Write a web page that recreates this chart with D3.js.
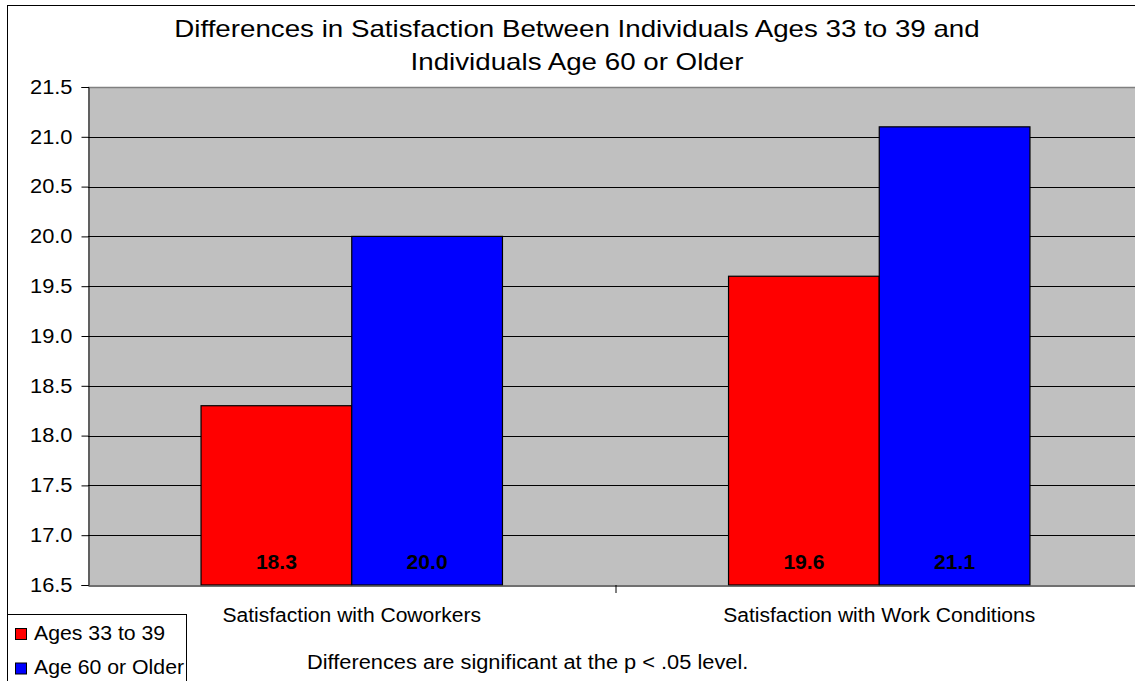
<!DOCTYPE html>
<html>
<head>
<meta charset="utf-8">
<script src="https://cdn.jsdelivr.net/npm/d3@7"></script>
<style>
  html, body { margin: 0; padding: 0; background: #fff; }
  svg { display: block; font-family: "Liberation Sans", Arial, sans-serif; }
</style>
</head>
<body>
<svg id="chart" width="1135" height="681"></svg>
<script>
// Chart data
const categories = ["Satisfaction with Coworkers", "Satisfaction with Work Conditions"];
const seriesNames = ["Ages 33 to 39", "Age 60 or Older"];
const ages33to39 = [18.3, 19.6];
const age60older = [20.0, 21.1];
const seriesColors = ["#ff0000", "#0000ff"];
const yTicks = [16.5, 17.0, 17.5, 18.0, 18.5, 19.0, 19.5, 20.0, 20.5, 21.0, 21.5];
const titleLines = ["Differences in Satisfaction Between Individuals Ages 33 to 39 and",
                    "Individuals Age 60 or Older"];
const footnote = "Differences are significant at the p < .05 level.";

const seriesValues = [ages33to39, age60older];

const svg = d3.select("#chart");

// Widen text horizontally by a factor, keeping its height
function widen(sel, factor) {
  sel.each(function () {
    const w = this.getComputedTextLength();
    d3.select(this).attr("textLength", w * factor).attr("lengthAdjust", "spacingAndGlyphs");
  });
}

// Outer chart frame
svg.append("rect")
  .attr("x", 7.5).attr("y", 5.5).attr("width", 1160).attr("height", 700)
  .attr("fill", "#fff").attr("stroke", "#000").attr("stroke-width", 1);

const plot = { left: 88, top: 87, right: 1143, bottom: 585 };

const y = d3.scaleLinear().domain([16.5, 21.5]).range([plot.bottom, plot.top]);
const x0 = d3.scaleBand().domain(categories).range([plot.left, plot.right]).padding(0);
const x1 = d3.scaleBand().domain(seriesNames).range([0, x0.bandwidth()])
  .paddingInner(0).paddingOuter(0.75);

// Plot background
svg.append("rect")
  .attr("x", plot.left).attr("y", plot.top)
  .attr("width", plot.right - plot.left).attr("height", plot.bottom - plot.top)
  .attr("fill", "#c0c0c0");

// Gridlines
svg.append("g")
  .selectAll("line")
  .data(yTicks.filter(t => t > 16.5 && t < 21.5))
  .join("line")
  .attr("x1", plot.left).attr("x2", plot.right)
  .attr("y1", d => Math.round(y(d)) + 0.5).attr("y2", d => Math.round(y(d)) + 0.5)
  .attr("stroke", "#000").attr("stroke-width", 1);

// Plot top border
svg.append("line")
  .attr("x1", plot.left).attr("x2", plot.right)
  .attr("y1", plot.top + 0.5).attr("y2", plot.top + 0.5)
  .attr("stroke", "#808080").attr("stroke-width", 1.5);

// Bars
const groups = svg.append("g").selectAll("g")
  .data(categories)
  .join("g")
  .attr("transform", d => `translate(${x0(d)},0)`);

groups.selectAll("rect")
  .data((d, i) => seriesNames.map((s, j) => ({ s, j, v: seriesValues[j][i] })))
  .join("rect")
  .attr("x", d => x1(d.s))
  .attr("y", d => y(d.v))
  .attr("width", x1.bandwidth())
  .attr("height", d => y(16.5) - y(d.v))
  .attr("fill", d => seriesColors[d.j])
  .attr("stroke", "#000").attr("stroke-width", 1.2);

// Value labels
groups.selectAll("text")
  .data((d, i) => seriesNames.map((s, j) => ({ s, j, v: seriesValues[j][i] })))
  .join("text")
  .attr("x", d => x1(d.s) + x1.bandwidth() / 2)
  .attr("y", 569)
  .attr("text-anchor", "middle")
  .attr("font-size", 19.5).attr("font-weight", "bold")
  .attr("fill", "#000")
  .text(d => d3.format(".1f")(d.v))
  .call(widen, 1.08);

// Y axis
const yAxis = d3.axisLeft(y).tickValues(yTicks).tickFormat(d3.format(".1f"))
  .tickSize(7).tickPadding(9);
const yg = svg.append("g").attr("transform", `translate(${plot.left + 0.5},0)`).call(yAxis);
yg.select(".domain").attr("stroke", "#000");
yg.selectAll(".tick line").attr("stroke", "#000");
yg.selectAll(".tick text").attr("font-size", 19.5).attr("fill", "#000")
  .attr("font-family", "Liberation Sans, Arial, sans-serif")
  .call(widen, 1.12);

// X axis
const xAxis = d3.axisBottom(x0).tickSize(0).tickPadding(0);
const xg = svg.append("g").attr("transform", `translate(0,${plot.bottom + 0.5})`).call(xAxis);
xg.select(".domain").attr("stroke", "#404040").attr("stroke-width", 1.5);
xg.selectAll(".tick text").attr("font-size", 19.5).attr("fill", "#000")
  .attr("dy", 0).attr("y", 36.5)
  .attr("font-family", "Liberation Sans, Arial, sans-serif")
  .call(widen, 1.08);
// Category separators
svg.append("g").selectAll("line")
  .data(categories.slice(1))
  .join("line")
  .attr("x1", d => x0(d) + 0.5).attr("x2", d => x0(d) + 0.5)
  .attr("y1", plot.bottom).attr("y2", plot.bottom + 8)
  .attr("stroke", "#000");

// Title
svg.append("g").selectAll("text")
  .data(titleLines)
  .join("text")
  .attr("x", 577).attr("y", (d, i) => 37 + i * 33)
  .attr("text-anchor", "middle")
  .attr("font-size", 24).attr("fill", "#000")
  .text(d => d)
  .call(widen, 1.155);

// Footnote
svg.append("text")
  .attr("x", 307).attr("y", 669)
  .attr("font-size", 20).attr("fill", "#000")
  .text(footnote)
  .call(widen, 1.09);

// Legend
const legend = svg.append("g");
legend.append("rect")
  .attr("x", 7.5).attr("y", 614.5).attr("width", 179).attr("height", 80)
  .attr("fill", "#fff").attr("stroke", "#000");
const items = legend.selectAll("g")
  .data(seriesNames)
  .join("g")
  .attr("transform", (d, i) => `translate(0,${i * 34.5})`);
items.append("rect")
  .attr("x", 15.5).attr("y", 628.5).attr("width", 11).attr("height", 11)
  .attr("fill", (d, i) => seriesColors[i]).attr("stroke", "#000");
items.append("text")
  .attr("x", 34).attr("y", 639.5)
  .attr("font-size", 19.5).attr("fill", "#000")
  .text(d => d)
  .call(widen, 1.09);
</script>
</body>
</html>
